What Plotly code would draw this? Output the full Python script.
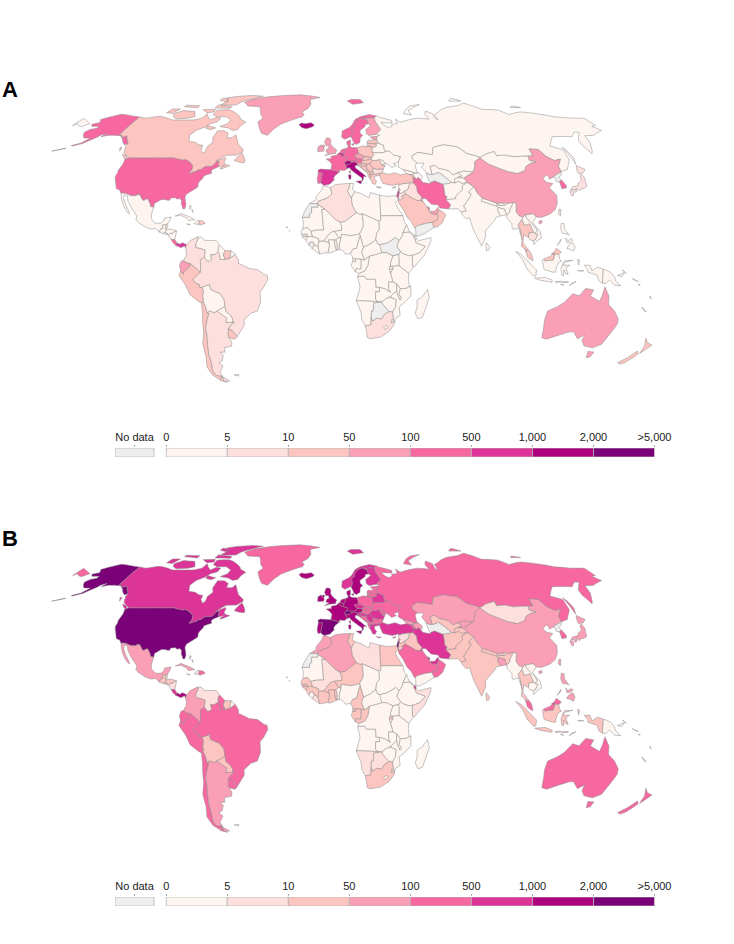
import plotly.graph_objects as go

W, H = 734, 944

# Country outlines as "lon,lat lon,lat ...", rings separated by ';'
OUTLINES = {
# North and Central America
"USA": "-124.7,48.4 -123,49 -116,49 -110,49 -102.5,49 -95.2,49 -94.6,48.7 -92,48.3 -89.6,48 -88.4,48.3 -84.9,46.9 -84.5,46.5 -83.5,46 -82.5,45.3 -82.1,43.6 -82.5,42.6 -83.1,42 -82.7,41.7 -81,42.3 -79,42.8 -79,43.3 -76.8,43.6 -76.3,44.2 -75,45 -71.5,45 -70.4,45.9 -70,46.7 -69.2,47.45 -68.3,47.3 -67.8,47.1 -67.8,45.7 -67,44.9 -68.5,44.3 -70.2,43.6 -70.8,42.8 -70.1,41.8 -71.4,41.4 -74,40.6 -74.2,39.5 -75.5,38 -76,37 -75.7,35.3 -77.8,34 -79.2,33.2 -81,32 -81.4,30.5 -80.5,28.4 -80,26.8 -80.4,25.2 -81.2,25.2 -81.8,26.2 -82.7,27.7 -82.8,29 -84,30 -85.5,29.7 -86.5,30.4 -89,30.3 -89.4,29.2 -90.5,29.2 -92,29.6 -94,29.6 -95,29 -97.2,27.7 -97.2,26 -99.1,26.4 -99.5,27.5 -101.4,29.8 -102.7,29.7 -103.2,29 -104.5,29.6 -106.5,31.8 -108.2,31.8 -108.2,31.3 -111,31.3 -114.8,32.5 -117.1,32.5 -118.5,34 -120.6,34.6 -122,36.8 -123.8,39.3 -124.3,40.4 -124.1,42 -124.5,43 -124,46.2;-141,69.6 -141,60.3 -139,60 -137.5,58.9 -135.5,59.8 -133.5,58.4 -130,55.9 -131.5,55.2 -134,56.5 -136,58 -139.5,59.8 -144,60 -148,60 -151.5,59.3 -150,61 -153,60 -154,58.9 -157,57.2 -158.5,56 -163.5,54.7 -164.5,54.9 -160,56.2 -157.5,58.6 -162,58.7 -165,60.5 -166,61.7 -164.5,63 -161,63.6 -161,64.6 -166,64.6 -168,65.7 -164,66.6 -166.5,68.3 -163,69.5 -157,71.2 -152,70.8 -146,70.1;-166,53.6 -170,52.7 -173,52.2 -168.5,53.2",
"CAN": "-141,69.6 -135,69 -128,70 -124,69.7 -115,68 -108,68 -100,68 -95,69 -94,71.5 -91,69.5 -88,68 -85,69.5 -81.5,69 -82,67 -86,66 -88,64.3 -92.5,62.5 -94.5,60 -92.5,57 -88,56.5 -85,55.3 -82.3,55.1 -82,53 -80,51.2 -78.8,52 -79,54.5 -76.8,56.5 -78.5,58.7 -78,62.3 -73.5,62.3 -70,61 -69.5,58.8 -66,58.8 -64.5,60.3 -62,57.5 -60,55.3 -56,53 -55.7,52 -59,50.3 -65,50.2 -67,49.3 -70,47.3 -65,49.2 -64.5,48.2 -65,47 -64,46 -61,45.3 -65.7,43.6 -66,44.3 -64,45.4 -67,44.9 -67.8,45.7 -67.8,47.1 -68.3,47.3 -69.2,47.45 -70,46.7 -70.4,45.9 -71.5,45 -75,45 -76.3,44.2 -76.8,43.6 -79,43.3 -79,42.8 -81,42.3 -82.7,41.7 -83.1,42 -82.5,42.6 -82.1,43.6 -82.5,45.3 -83.5,46 -84.5,46.5 -84.9,46.9 -88.4,48.3 -89.6,48 -92,48.3 -94.6,48.7 -95.2,49 -102.5,49 -110,49 -116,49 -123,49 -125,50 -128,51.5 -130,54.5 -130,55.9 -133.5,58.4 -135.5,59.8 -137.5,58.9 -139,60 -141,60.3;-80,73.7 -76,72.8 -71,71 -68,69.5 -67,68.5 -62,66.8 -64,65 -65,63 -68,62.5 -72,63.8 -78,64.5 -74,66 -73.5,68 -78,69.7 -85,69.8 -89,71 -89,73.5 -85,73.7;-117,69.9 -113,68.6 -105,69 -101,69.8 -105,72.8 -110,73 -114,73.3 -118.5,71.5;-125,72 -120,71.6 -118,74.2 -124,74.2;-90,76.5 -78,76.5 -76,78.5 -68,80.7 -62,82.5 -72,83.1 -85,82.3 -92,81.2 -88,79;-92,74.7 -80,74.6 -80,75.7 -92,76.6;-117,75.5 -106,74.8 -106,76.1 -117,76.4;-95,79.5 -87,78.3 -90,80.6 -95,81;-87,65 -80.5,63.8 -83,62.9 -87,63.6;-100,73.8 -95,72 -90,72.5 -91,74;-59.3,47.7 -56,46.9 -53,46.7 -52.8,47.6 -54,49.4 -56,51.4 -57.5,50;-128.3,50.8 -125.2,50 -123.4,48.4 -125.5,48.8;-133,54 -131.8,54 -131.3,52.2",
"MEX": "-117.1,32.5 -114.8,32.5 -111,31.3 -108.2,31.3 -108.2,31.8 -106.5,31.8 -104.5,29.6 -103.2,29 -102.7,29.7 -101.4,29.8 -99.5,27.5 -99.1,26.4 -97.2,26 -97.8,22.5 -97.2,20.5 -95,18.6 -92,18.6 -90.6,19.8 -90.4,21 -87,21.5 -87.6,19.5 -88.3,18.5 -89.1,17.9 -91,17.8 -91,17.2 -90.4,16.4 -91.7,16 -92.2,14.5 -94.5,16.2 -97,15.9 -100,16.9 -104,18.9 -105.6,20.4 -105.4,22 -109,25.6 -112,29 -113,31.2 -114.8,31.8 -114.7,30 -112.5,27 -110,24 -109.5,23 -110.2,23.2 -112.2,25 -114,27.2 -115.7,29.8",
"GRL": "-73,78.2 -68,76 -58,75.5 -54,71 -51,69 -53.5,67 -51,64 -48,61 -43.5,60 -41,63 -37,65.7 -30,68 -23,69.8 -22,71 -24,72.5 -20,74.5 -18.5,77 -20,80 -12,81.5 -30,83.6 -40,83.2 -55,82.2 -62,81.4 -66,80.8",
"ISL": "-24.3,65.6 -22,64 -18.8,63.4 -14.7,64.4 -13.6,65.3 -16,66.5 -20,66 -22.5,66.4",
"GTM": "-92.2,14.5 -91.7,16 -90.4,16.4 -91,17.2 -91,17.8 -89.1,17.9 -89.2,15.9 -88.3,15.7 -89.3,14.4 -90,13.8",
"BLZ": "-89.1,17.9 -88.3,18.5 -88.2,16.5 -89.2,15.9",
"SLV": "-90,13.8 -89.3,14.4 -87.8,13.9 -87.8,13.3",
"HND": "-89.3,14.4 -88.3,15.7 -86,15.9 -83.2,15 -84.5,14.7 -85,14 -86.7,13.8 -87.3,13 -87.8,13.3 -87.8,13.9",
"NIC": "-87.3,13 -86.7,13.8 -85,14 -84.5,14.7 -83.2,15 -83.7,11 -85.7,11.1",
"CRI": "-85.7,11.1 -83.7,11 -82.6,9.6 -83,8.3 -84.7,9.7",
"PAN": "-83,8.3 -82.6,9.6 -81,8.9 -79.5,9.6 -77.4,8.7 -77.9,7.2 -78.5,8.2 -80.4,7.3 -81.5,7.8",
"CUB": "-84.9,21.9 -82,23.1 -77,21.5 -74.2,20.2 -77.7,19.9 -78.5,21 -82,22.3",
"HTI": "-74.4,18.3 -72.8,19.9 -71.7,19.8 -71.8,18.1",
"DOM": "-71.7,19.8 -69.9,19.7 -68.4,18.6 -71.3,17.7 -71.8,18.1",
"JAM": "-78.3,18.4 -76.3,18 -77.5,17.8",
"BHS": "-78,26.7 -77,26.6 -77.5,25;-76.5,24.8 -75.5,23.5 -76,24.8",
# South America
"COL": "-77.4,8.7 -75.6,10.6 -72,12.2 -71.3,11.8 -72.5,9.2 -72.5,7.4 -70,7 -67.5,6.2 -67.8,2.8 -70,1.7 -69.8,-1 -70,-4.2 -72,-2.4 -75.2,-0.1 -77.4,0.4 -78.8,1.4 -77.3,3.8 -77.5,6 -77.9,7.2",
"VEN": "-72,12.2 -70,12.2 -68,10.7 -64,10.6 -62,10.7 -60,8.5 -60.7,7.5 -60.7,5.2 -62.8,4 -64.6,4.1 -64,1.8 -66,0.8 -67.8,2.8 -67.5,6.2 -70,7 -72.5,7.4 -72.5,9.2 -71.3,11.8",
"GUY": "-60,8.5 -57.2,6 -58,4 -56.9,1.9 -59.7,1.8 -60,4.5 -60.7,5.2 -60.7,7.5",
"SUR": "-57.2,6 -54,5.9 -54.5,2.3 -56.9,1.9 -58,4",
"GUF": "-54,5.9 -51.7,4.2 -54.5,2.3",
"ECU": "-80.9,-1 -80,1 -78.8,1.4 -77.4,0.4 -75.2,-0.1 -75.5,-1.5 -78.2,-3.5 -79.1,-5 -80.3,-3.4",
"PER": "-80.3,-3.4 -79.1,-5 -78.2,-3.5 -75.5,-1.5 -75.2,-0.1 -72,-2.4 -70,-4.2 -73,-6.5 -74,-7.5 -72.9,-9 -70.6,-9.8 -70.6,-11 -69.5,-11 -68.7,-12.5 -69.4,-15.5 -69,-16.5 -69.5,-17.5 -70.4,-18.3 -72,-17.4 -76,-14.5 -78,-10 -81.3,-5.5",
"BOL": "-69.4,-15.5 -68.7,-12.5 -69.5,-11 -65.4,-9.7 -65,-12 -60.5,-13.8 -58.3,-16.3 -58,-19.8 -62.6,-22 -64.3,-22.8 -66.3,-21.9 -68,-22.8 -68.5,-20 -69.5,-17.5 -69,-16.5",
"PRY": "-62.6,-22 -58,-19.8 -57.8,-22.1 -55.5,-24 -54.6,-25.6 -54.7,-27.2 -58.6,-27.3 -57.7,-25.3",
"CHL": "-70.4,-18.3 -69.5,-17.5 -68.5,-20 -68,-22.8 -67,-23 -68.4,-26 -70,-30 -70,-33 -71,-38 -71.8,-42 -72,-46 -73,-50 -72,-52 -68.4,-52.4 -71,-54 -74,-52 -75.5,-48 -73.8,-43 -73.5,-37.2 -71.5,-32 -71,-27 -70.4,-23;-68.6,-52.7 -68.6,-54.9 -67,-55.3 -71,-54.5 -70,-53.5",
"ARG": "-66.3,-21.9 -64.3,-22.8 -62.6,-22 -57.7,-25.3 -58.6,-27.3 -54.7,-27.2 -53.8,-27.1 -55.7,-28.3 -57.6,-30.2 -58.2,-33 -58.4,-34 -57,-36.3 -57.6,-38.2 -62,-39 -62.3,-41 -65,-41 -63.7,-42.6 -65.3,-45 -67.5,-46 -65.8,-47.5 -69,-50.5 -68.4,-52.4 -72,-52 -73,-50 -72,-46 -71.8,-42 -71,-38 -70,-33 -70,-30 -68.4,-26 -67,-23 -68,-22.8;-68.6,-52.7 -65.2,-54.7 -68.6,-54.9",
"URY": "-58.2,-33 -57.6,-30.2 -55.7,-30.9 -53.4,-33.7 -54.9,-35 -57.9,-34.4",
"BRA": "-51.7,4.2 -50,1.7 -50,0 -48,-0.7 -44.5,-2.3 -40,-2.8 -37,-4.8 -35,-5.5 -34.8,-7.5 -37,-11 -39,-13 -39,-18 -41,-22 -44.5,-23 -48.5,-26 -48.7,-28.5 -53.4,-33.7 -55.7,-30.9 -57.6,-30.2 -55.7,-28.3 -53.8,-27.1 -54.7,-27.2 -54.6,-25.6 -55.5,-24 -57.8,-22.1 -58,-19.8 -58.3,-16.3 -60.5,-13.8 -65,-12 -65.4,-9.7 -69.5,-11 -70.6,-11 -70.6,-9.8 -72.9,-9 -74,-7.5 -73,-6.5 -70,-4.2 -69.8,-1 -70,1.7 -67.8,2.8 -66,0.8 -64,1.8 -64.6,4.1 -62.8,4 -60.7,5.2 -60,4.5 -59.7,1.8 -56.9,1.9 -54.5,2.3",
"FLK": "-61,-51.8 -58,-51.5 -58.5,-52.3",
# Europe
"PRT": "-9,41.9 -8.2,42.1 -6.5,41.9 -7,39.7 -7.4,37.2 -9,37 -9.5,38.8",
"ESP": "-9.2,43.1 -8,43.7 -1.8,43.4 3.2,42.4 0.5,40.6 -0.3,39.3 0.2,38.7 -1.6,37.3 -2.2,36.7 -5.5,36 -7.4,37.2 -7,39.7 -6.5,41.9 -8.2,42.1 -9,41.9",
"FRA": "-1.8,43.4 -1.2,46 -2.5,47.3 -4.7,48.4 -1.5,48.7 -1.8,49.7 1.5,50.2 2.5,51.1 4.2,50 5.8,49.5 8.2,49 7.6,47.6 6,46.3 7,45.9 7.5,43.8 6,43 3.2,43.3 3.2,42.4;8.6,42.5 9.5,43 9.4,41.5",
"BEL": "2.5,51.1 3.4,51.4 5,51.4 6.1,50.7 5.8,49.5 4.2,50",
"NLD": "3.4,51.4 4.7,53 6.9,53.4 7,52.3 6,51 6.1,50.7 5,51.4",
"DEU": "7,52.3 6.9,53.4 8.8,54 8.7,54.9 10,54.7 11,54 14.1,53.9 14.7,52.8 14.9,51 12.2,50.3 13.8,48.7 13,47.5 10,47.3 7.6,47.6 8.2,49 5.8,49.5 6.1,50.7 6,51",
"CHE": "6,46.3 7.6,47.6 9.6,47.5 10.4,46.8 9,45.9 7,45.9",
"AUT": "9.6,47.5 13,47.5 13.8,48.7 16.9,48.6 17.1,47.7 16,46.7 13.7,46.5 12.2,47 10.4,46.8",
"ITA": "7,45.9 9,45.9 10.4,46.8 12.2,47 13.7,46.5 13.7,45.6 12.3,45.3 12.4,44.2 13.6,43.5 16,41.9 18.5,40.1 16.9,40.4 16.6,38.9 15.7,38 15.9,39.5 12.3,41.7 10.5,42.9 8.8,44.4 7.5,43.8;12.4,38 15.6,38.2 15.1,36.7;8.2,40.9 9.7,41 9.6,39.2 8.5,39",
"GBR": "-5,58.6 -3,58.6 -2,57.6 -2.2,56 -1.5,55 0,53.7 1.7,52.7 1,51.4 1.3,51.1 -3,50.7 -5.7,50 -3,51.4 -5,51.8 -4.3,53.2 -3,53.5 -3.5,54.9 -5,54.8 -6,56.6;-5.6,54.6 -6.5,55.2 -7.4,55 -8,54.5 -6.5,54.1",
"IRL": "-6.5,54.1 -8,54.5 -7.4,55 -8.5,55.1 -10,54.2 -10,52 -6.4,52.2 -6,53",
"DNK": "8.7,54.9 10,54.7 10.5,56.5 10.6,57.7 8.2,57 8.1,55.6;12,54.8 12.6,55.8 11,55.7",
"NOR": "5,59 7,58 10.6,59.3 11.3,59 12.2,61 12,63.5 14,64.5 14.5,66 16.5,68 20,69 20.5,69.1 23.5,68.8 25.5,69.2 28.9,69.1 31,70.2 26,71 23,70.5 19,69.8 15,68.2 12.5,65.5 10.5,64 5.5,62.2;11,79 15,77 24,78 22,80 14,80",
"SWE": "11.3,59 12.7,56 14.2,55.4 16.5,56.5 16.9,58.6 18.8,60 17.3,61 17.4,62.5 21.3,64.5 21.8,65.7 24,65.8 23.5,67.9 20.5,69.1 20,69 16.5,68 14.5,66 14,64.5 12,63.5 12.2,61",
"FIN": "24,65.8 25.4,65.1 21.4,63 21.4,60.8 23,59.9 27.8,60.5 31.5,62.9 29.2,66.9 29,69 28.9,69.1 25.5,69.2 23.5,68.8 20.5,69.1 23.5,67.9",
"EST": "23.5,59.2 28,59.5 27.4,57.6 25,58",
"LVA": "21,57 22.6,57.7 24.4,57.3 25,58 27.4,57.6 28.2,56.1 26.5,55.7 21,56.1",
"LTU": "21,56.1 26.5,55.7 26.6,54.9 25.5,54.2 23.5,54 22.8,54.4 21,55.3",
"POL": "14.1,53.9 18.5,54.8 19.8,54.4 22.8,54.4 23.5,54 23.6,52.6 23.6,51.5 24,50.5 22.6,49.1 19.5,49.5 18.8,49.5 14.9,51 14.7,52.8",
"CZE": "12.2,50.3 14.9,51 18.8,49.5 17,48.8 16.9,48.6 13.8,48.7",
"SVK": "17,48.8 18.8,49.5 19.5,49.5 22.6,49.1 22.2,48.4 18.8,47.8 17.1,47.7",
"HUN": "16,46.7 17.1,47.7 18.8,47.8 22.2,48.4 22.9,47.9 21,46.2 18.8,45.9 16.5,46.5",
"SVN": "13.7,46.5 16,46.7 16.5,46.5 15.5,45.5 13.7,45.5",
"HRV": "13.7,45.5 15.5,45.5 16.5,46.5 18.8,45.9 19,45 15.8,45.1 16,44.2 18.5,42.5 14.8,44.9",
"BIH": "15.8,45.1 19,45 19.2,43.5 18.5,42.5 16,44.2",
"SRB": "18.8,45.9 21,46.2 22.6,44.2 22.4,42.3 21,42.2 20,42.7 19.2,43.5 19,45",
"MNE": "19.2,43.5 20,42.7 19.3,41.9 18.5,42.5",
"ALB": "19.3,41.9 20,42.7 21,42.2 20.5,41 21,40 20,39.7 19.4,40.5",
"MKD": "20.5,41 21,42.2 22.4,42.3 23,41.3",
"GRC": "20,39.7 21,40 20.5,41 23,41.3 26.3,41.7 26,40.8 23,40.3 23,39 24,38 22.9,36.5 21.5,37 21,38.3;23.5,35.5 26.3,35.2 24.9,34.9",
"BGR": "22.6,44.2 25,43.7 28.6,43.7 27.8,42 26.3,41.7 23,41.3 22.4,42.3",
"ROU": "21,46.2 22.9,47.9 24.9,47.7 26.6,48.2 28.2,46 28.2,45.5 29.7,45.2 28.6,43.7 25,43.7 22.6,44.2",
"MDA": "26.6,48.2 29,47.9 30,46.4 28.2,45.5 28.2,46",
"UKR": "24,50.5 23.6,51.5 30,51.5 31.5,52.1 34,52.3 36,50.4 40,49.6 38.2,47.1 35,46.2 36.5,45.3 33.5,44.4 32.5,45.4 30.7,46.5 29.7,45.2 28.2,45.5 30,46.4 29,47.9 26.6,48.2 24.9,47.7 22.9,47.9 22.2,48.4 22.6,49.1",
"BLR": "23.6,52.6 23.5,54 25.5,54.2 26.6,54.9 26.5,55.7 28.2,56.1 31,55.1 31,53 31.5,52.1 30,51.5 23.6,51.5",
"RUS": "27.4,57.6 28,59.5 30,60 27.8,60.5 31.5,62.9 29.2,66.9 29,69 28.9,69.1 31,70.2 33,69.5 41,67.7 40.5,66.4 35,66.5 33,66.7 34.8,65 37,64 40,64.7 40,65.8 44,66 44,68.5 46.5,66.8 54,68.2 60,69 68,68.5 67,71 69,73 73,71.5 72.5,69 74,68 74,71 78,72.3 81,73.5 87,75 98,76.2 105,77.7 113,74 125,73.5 129,71 140,72.5 150,71.5 160,69.7 170,69 180,68.9 180,65 177,64.7 179.4,62.4 170,60 164,59.8 163,57.8 162,56 158,52 156.7,51 155.7,55 156.5,57.5 163,61.5 160,61.7 155,59.3 142,59.3 135,54.7 141,53 140,48 135,43.5 131,42.5 130.6,42.4 131,45 135,48.4 130.9,47.7 127.5,49.8 126,53 120.5,53.3 120,50 116.7,49.8 108,49.5 103,50.3 98,50 98,52 92,50.8 87.8,49.2 85,50 80.7,51 76.8,54.3 71,55 69,55.3 61.5,54 59.5,50.5 51,51.6 47,50 46.8,48.5 49,46.5 47.5,45.6 47.7,42 48.5,41.8 46.6,41.8 43.5,42.7 40,43.4 37.5,44.7 38.2,47.1 40,49.6 36,50.4 34,52.3 31.5,52.1 31,53 31,55.1 28.2,56.1;-180,68.9 -175,67.5 -170,66 -173,64.4 -176,65 -178.5,66 -180,65;20,54.4 22.8,54.4 21,55.3;142,54 143,52 143.5,49 142,46 142,50;51.5,71.5 57,70.7 56,73 68,76.8 60,76 55,74;95,79 105,79 100,81;137,75 145,75 140,76",
"GEO": "40,43.4 43.5,42.7 46.6,41.8 45,41.2 43.5,41.1 41.5,41.5",
"ARM": "43.5,41.1 45,41.2 46.5,39 44.8,39.7",
"AZE": "45,41.2 46.6,41.8 48.5,41.8 50.3,40.3 49,38.4 48,39.7 46.5,39",
"TUR": "26.3,41.7 28,42 31,41.2 35,42 38,41 41.5,41.5 43.5,41.1 44.8,39.7 44.5,37.3 42.5,37.2 38,36.8 36.7,36.2 36,36.8 32.5,36.1 30.5,36.4 29,36.7 27.4,37 26.3,39.3 26,40.8",
"CYP": "32.4,35 34.5,35.6 33.8,34.9",
# Middle East and Asia
"SYR": "36,36.8 36.7,36.2 38,36.8 42.5,37.2 41,34.4 38.8,33.4 36.8,32.3 35.9,32.7 35.9,33.3 36.6,34.2 35.9,34.6",
"LBN": "35.9,34.6 36.6,34.2 35.9,33.3 35.1,33.1",
"ISR": "35.1,33.1 35.9,33.3 35.5,31.5 35,29.5 34.3,31.3",
"JOR": "35.9,32.7 36.8,32.3 38.8,33.4 39.2,32.1 37,31 38,30.5 36,29.2 35,29.5 35.5,31.5",
"IRQ": "42.5,37.2 44.5,37.3 46,35.7 46,33 47.7,31 48.5,29.9 47.7,30.1 47,29.1 44.7,29.2 39.2,32.1 38.8,33.4 41,34.4",
"KWT": "47.7,30.1 48.4,28.5 47,29.1",
"SAU": "35,29.5 36,29.2 38,30.5 37,31 39.2,32.1 44.7,29.2 47,29.1 48.4,28.5 50,26.5 51,24.6 52,23 55.2,22.7 55.7,22 55,20 52,19 49,18.6 44,17.4 43.2,16.7 42.7,16.4 41,19.5 39,21.5 37.2,25 35,28",
"QAT": "51,24.6 51.6,25 51.2,26.1 50.8,25.5",
"BHR": "50.3,25.8 50.7,26.3 50.7,25.8",
"ARE": "51.6,24.2 54,24.1 56,26 56.4,24.9 55.2,22.7 52,23",
"OMN": "56.4,24.9 58.7,23.6 59.8,22.5 57.7,19 55,17 53,16.7 52,19 55,20 55.7,22 55.2,22.7",
"YEM": "43.2,12.7 43.2,16.7 44,17.4 49,18.6 52,19 53,16.7 48,14 45,12.8",
"IRN": "44.8,39.7 46.5,39 48,39.7 49,38.4 50,37.4 54,36.9 54,37.4 56.5,38.2 61,36.6 61,34.4 60.8,31.5 61.8,30.8 61,29.5 63.2,27.2 61.6,25.2 57,25.7 56.3,27 52.5,27.5 50,30 48.5,29.9 47.7,31 46,33 46,35.7 44.5,37.3",
"TKM": "52.9,41.9 54.8,41.2 56,41.3 57,41.3 60,42.2 62,40.9 66,37.5 64.5,37 61,36.6 56.5,38.2 54,37.4 53.2,39",
"UZB": "56,45 59,45.5 61,44 64,43.5 66,43 68,41 71,42 73,40.5 71,40 68,39 67.8,37.2 66,37.5 62,40.9 60,42.2 57,41.3 56,41.3",
"KAZ": "47,50 51,51.6 59.5,50.5 61.5,54 69,55.3 71,55 76.8,54.3 80.7,51 85,50 87.8,49.2 87.3,49 83,47 82.5,45.3 80,42.2 75,42.8 71,42 68,41 66,43 64,43.5 61,44 59,45.5 56,45 56,41.3 54.8,41.2 52.9,41.9 52.5,42.8 51,44.5 53,46.5 49,46.5 46.8,48.5",
"KGZ": "71,42 75,42.8 80,42.2 74,39.7 73.6,39.4 70,39.7 71,40 73,40.5",
"TJK": "67.8,37.2 68,39 70,39.7 73.6,39.4 74.9,37.4 71.5,37 70,38",
"AFG": "61,36.6 64.5,37 66,37.5 67.8,37.2 70,38 71.5,37 74.9,37.4 71.5,36 71,34 69.3,33 66.5,31 66.4,29.9 61,29.5 61.8,30.8 60.8,31.5 61,34.4",
"PAK": "61,29.5 66.4,29.9 66.5,31 69.3,33 71,34 71.5,36 74.9,37.4 77.8,35.5 74,33 75.3,32.2 74.5,31 73,29.5 70,26.5 71,24.3 68.2,23.7 66.7,25.3 61.6,25.2 63.2,27.2",
"IND": "68.2,23.7 71,24.3 70,26.5 73,29.5 74.5,31 75.3,32.2 74,33 77.8,35.5 78.9,32.5 81,30.2 80,28.8 88,26.4 88.1,27.9 89,26.8 92,26.8 94,27.8 97.3,28.2 95,25.5 94,23.5 92.5,22.5 91.8,24 92,25 89.8,25.5 88.5,26 88,24.5 89,22 86.8,21.5 85,19.5 81,16 80,15 80,12.5 78,8.8 77.5,8 76,11 74,15 72.8,19 72.6,21 70.3,20.8 69,22.2",
"NPL": "80,28.8 81,30.2 88.1,27.9 88,26.4",
"BTN": "89,26.8 89,28 92,27.9 92,26.8",
"BGD": "88,24.5 88.5,26 89.8,25.5 92,25 91.8,24 92.5,22.5 91,22.3 89,22",
"LKA": "80,9.7 81.8,7.5 81,6.1 80,6 79.8,8",
"CHN": "73.6,39.4 74,39.7 80,42.2 82.5,45.3 83,47 87.3,49 91,46 95.5,44.2 100,42.6 105,41.6 110,43 112,45 116,46.5 119.5,47 116,47.8 116.7,49.8 120,50 120.5,53.3 126,53 127.5,49.8 130.9,47.7 135,48.4 131,45 130.6,42.4 128,41.5 124.4,40 121.7,39 122,40.5 121,40.8 118,39.2 119.5,37.5 122.5,37 119.5,35 122,31.5 121,28 119,25 116,23 113,22 110.5,21.3 108,21.5 106.7,23 102.5,22.5 101.5,21.2 99,22 97.7,24 98.7,27.8 97.3,28.2 94,27.8 92,27.9 89,28 88.1,27.9 81,30.2 78.9,32.5 77.8,35.5 74.9,37.4;108.7,19.3 110.5,20 110.8,19 109.3,18.2",
"TWN": "121,25.1 122,25 121,22 120.2,23",
"MNG": "87.8,49.2 92,50.8 98,52 98,50 103,50.3 108,49.5 116.7,49.8 116,47.8 119.5,47 116,46.5 112,45 110,43 105,41.6 100,42.6 95.5,44.2 91,46 87.3,49",
"PRK": "124.4,40 128,41.5 130.6,42.4 129.7,41 127.5,39.7 128.3,38.6 126.7,37.8 125,37.9 125.3,39.5",
"KOR": "126.7,37.8 128.3,38.6 129.5,36 129,35 126.3,34.5 126.6,37",
"JPN": "130.9,34 132.5,35.4 136,36 137,37.3 139.5,38.5 140,40.5 141.4,41.4 142,39.5 141,37 140.8,35.7 138.8,34.8 136.8,34.5 135.5,33.6 135,34.6 132.5,34.2;140,41.5 140.2,43 141.7,45.4 145.3,43.5 143,42;130,33.4 131,33.9 132,33 131,31.3 130.2,31.3;132.5,33.8 134.5,34.2 134,33.4 133,32.8",
"MMR": "92.2,21 92.5,22.5 94,23.5 95,25.5 97.3,28.2 98.7,27.8 97.7,24 99,22 101,21.5 100.2,20.3 97.8,18 98.5,16 99,11 98.6,13 97.6,16.5 95.5,15.8 94.3,16 94.5,18.5",
"THA": "97.8,18 100.2,20.3 100.5,19.5 101,17.6 104,18.4 105.5,14.5 102.8,14 102.5,12 100.8,12.7 100,13.4 99.3,9.5 101.5,6.8 102,6.2 101,5.7 100.2,6.6 98.3,8 99,11 98.5,16",
"LAO": "100.2,20.3 101,21.5 102.2,22.4 103,20.8 104.7,19 107,16.3 107.6,15 106,13.9 105.5,14.5 104,18.4 101,17.6 100.5,19.5",
"KHM": "102.5,12 102.8,14 105.5,14.5 106,13.9 107.6,13.5 106,11 104.8,10.5 103,11",
"VNM": "102.2,22.4 106.7,23 108,21.5 105.7,19 107,17 109,15 109.2,11.7 106.7,10.4 105,8.7 104.8,10.5 106,11 107.6,13.5 106,13.9 107.6,15 107,16.3 104.7,19 103,20.8",
"MYS": "100.2,6.6 101,5.7 102,6.2 103.4,4.5 104.2,1.4 103.4,1.5 101.3,2.9;109.6,2 111.3,2.7 113,3.2 115,5 116.7,7 119.2,5.2 117.7,4.2 115.8,4.3 114.7,1.5 112,1.4 110.5,1",
"BRN": "114,4.6 115.3,5 115.2,4",
"IDN": "95.3,5.6 98,4.2 100.5,2 103.7,-1 106,-3 105.8,-5.8 104.5,-5.8 101,-2.5 98.8,1.7;109,1.5 109.6,2 110.5,1 112,1.4 114.7,1.5 115.8,4.3 117.7,4.2 118,2.3 119,1 117.5,0.5 116.5,-1.5 116,-4 114.5,-4 110,-2.8;105.2,-6.8 108.5,-6.6 111,-6.5 114.5,-7.7 114.5,-8.7 108.5,-7.8;119.5,-5.5 120.4,-5.6 120.3,-3 121.5,-4.8 122.7,-5 121.3,-2 123.4,-0.8 120,-0.8 120.5,0.5 125,1.5 120.8,1.3 119.7,0 118.8,-2.8;131,-0.8 134,-0.8 135,-3.4 138,-1.7 141,-2.6 141,-9.1 139,-8 138,-5.5 133,-4 132.8,-2.8;127.5,2 128.5,1.5 128,-0.8;123.6,-10.3 127,-8.4 125,-9;127.7,-3.2 130.8,-3.4 128,-3.5;119,-8.5 123,-8.3 123,-8.8 119.9,-8.8;116,-8.4 119,-8.2 117,-9;119,-9.5 120.8,-10 119.5,-9.8",
"PHL": "120.7,18.5 122.2,18.5 122,16 124,13 123.5,13.5 120.6,14 120,16;122,7 123.5,8.7 125.5,9.7 126.5,7.5 125.5,5.7 124,6.5;122,11.8 123,10.5 125,11.5 125.7,10.8 124,9.8 122.5,9.6;117.2,8.4 119.5,11.3 119,10",
"PNG": "141,-2.6 144.5,-3.8 147,-6 147.8,-8 150.8,-10.3 147.5,-10 144.5,-7.6 143,-9.2 141,-9.1;148.5,-5.6 152,-4.2 151,-6;151,-3 153,-4.7 152.5,-4",
"AUS": "114.2,-22 113.5,-26 115,-34.3 118,-35 124,-33 129,-31.6 131.2,-31.5 135,-34.8 138,-33 138,-35.6 140.5,-38 146,-39 150,-37.3 151.5,-33 153.5,-28 153,-25.5 150,-22 146,-19 145.3,-15 142.5,-10.8 141.7,-15 140.8,-17.5 135.5,-15 136.8,-12.2 132.5,-11.5 129.5,-14.9 126,-14 122.2,-18 119,-20;144.7,-40.7 148.3,-40.9 147.9,-43.2 146,-43.6",
"NZL": "172.7,-40.5 174.3,-41.8 172.7,-43.8 170.7,-45.9 168.5,-46.6 166.5,-45.9 170,-43.5;172.7,-34.5 175,-36.5 178.5,-37.7 176.9,-39.5 175,-41.6 174.7,-39.9 174.7,-38",
"NCL": "164,-20.1 167,-22.4 166,-22",
"FJI": "177.3,-17.5 178.6,-17.6 178,-18.3",
"SLB": "156.5,-7 159.8,-8.4 158.5,-8;159.8,-9.5 161,-10 160,-9.9",
"VUT": "167,-15 168,-16.5 167.3,-16",
# Africa
"MAR": "-13.2,27.7 -8.7,27.7 -8.7,28.7 -3.6,30.3 -1.2,32.1 -2,35.1 -5,35.9 -6,35.8 -6.8,34 -9.7,31 -9.8,29.5",
"ESH": "-8.7,27.7 -8.7,26 -12,26 -12,23.4 -13,23 -13,21.3 -17,21.3 -16,23.7 -14.5,26 -13.2,27.7",
"DZA": "-8.7,27.7 -8.7,28.7 -3.6,30.3 -1.2,32.1 -2,35.1 1,36.5 9,37 8.3,34.6 7.5,33.5 9.5,30.3 9.9,27 12,23.5 6,19.5 3.3,19 1.2,20 -4.8,25 -8.7,27.3",
"TUN": "9,37 11,37 10.2,34.3 11.5,33.2 10.2,31.5 9.5,30.3 7.5,33.5 8.3,34.6",
"LBY": "11.5,33.2 15,32.3 19,30.3 20,32.8 25,31.6 25,22 25,20 24,19.5 15,23 14,22.6 12,23.5 9.9,27 9.5,30.3 10.2,31.5",
"EGY": "25,31.6 29,31 32,31.2 34.3,31.3 34.9,29.5 33.2,28 34.2,26 36.9,22 25,22",
"MRT": "-17,21.3 -13,21.3 -13,23 -12,23.4 -12,26 -8.7,26 -8.7,27.3 -4.8,25 -6.5,25 -5.5,15.5 -9.5,15.4 -12.2,14.8 -14,16.6 -16.5,16.1 -16.3,19",
"MLI": "-4.8,25 1.2,20 3.3,19 4.2,16.8 4,15.3 0.2,14.9 -2,14.2 -4,12 -5.5,10.4 -8,10.2 -8.3,11.5 -11.4,12.4 -12.2,14.8 -9.5,15.4 -5.5,15.5 -6.5,25",
"NER": "3.3,19 6,19.5 12,23.5 14,22.6 15,23 15.5,20 15.5,16.9 13.5,13.7 9,12.8 4,13.5 3.6,11.7 2.4,12 0.2,14.9 4,15.3 4.2,16.8",
"TCD": "15,23 24,19.5 24,15.7 22.5,14 22,11 19,9 15.5,7.5 13.7,13 13.5,13.7 15.5,16.9 15.5,20",
"SDN": "24,15.7 24,19.5 25,20 25,22 36.9,22 37.4,19 38.5,18 36.5,14.3 36,12.7 34.2,10.5 32.5,12 28,9.5 24,8.7 23,9 22,11 22.5,14",
"SSD": "24,8.7 28,9.5 32.5,12 34.2,10.5 33,8 35,5.4 33.9,4.2 30.8,3.5 27.5,5 25,5 23.5,8.7",
"ERI": "36.5,14.3 38.5,18 39.7,15 43.1,12.7 42,12.6 40,14.5",
"ETH": "36,12.7 36.5,14.3 40,14.5 42,12.6 42.7,11 43.3,9.5 48,8 45,5 42,4 39.6,3.5 36,4.5 35,5.4 33,8 34.2,10.5",
"DJI": "42,12.6 43.1,12.7 43.3,11.5 42.7,11",
"SOM": "43.3,11.5 44.5,10.5 51,12 51,10.4 47.5,4 42,-1.6 41,-1 41,3.9 42,4 45,5 48,8 43.3,9.5 42.7,11",
"KEN": "33.9,4.2 35,5.4 36,4.5 39.6,3.5 41,3.9 41,-1 41.5,-1.7 39.2,-4.6 37.7,-3.6 34,-1 34,1.2",
"UGA": "30.8,3.5 33.9,4.2 34,1.2 34,-1 29.6,-1.4 29.6,0.5",
"TZA": "29.6,-1.4 34,-1 37.7,-3.6 39.2,-4.6 39,-7 39.5,-10.5 40.4,-10.4 38,-11.5 34.9,-11.6 33,-9.5 31,-8.6 29.6,-4.5 30.8,-2.4",
"RWA": "29,-1.5 29.6,-1.4 30.8,-1.3 30.8,-2.4 29,-2.8",
"BDI": "29,-2.8 30.8,-2.4 29.6,-4.5",
"COD": "30.8,3.5 29.6,0.5 29.6,-1.4 29,-1.5 29,-2.8 29.6,-4.5 31,-8.6 28.7,-8.5 28.8,-11.8 29.8,-13.4 27,-11.8 23.9,-11 22,-11 21.8,-7.3 17,-7.3 16,-5.9 12.3,-6 13,-4.6 16,-3.5 17.7,-1 18.6,3.5 22,4.2 25,5 27.5,5",
"COG": "13,-4.6 11.2,-3.9 11.5,-2.3 14,-2.5 14.2,1.3 13.3,2.2 16,1.7 18.6,3.5 17.7,-1 16,-3.5",
"GAB": "9,-1 9.8,1 11.3,1 11.3,2.2 13.3,2.2 14.2,1.3 14,-2.5 11.5,-2.3 11.2,-3.9",
"GNQ": "9.8,1 11.3,1 11.3,2.2 9.8,2.2",
"CMR": "8.5,4.6 9.8,3 9.8,2.2 11.3,2.2 13.3,2.2 16,1.7 14.5,5 15.5,7.5 13.7,13 13,11 11.8,7 10,6.8",
"NGA": "2.7,6.4 4.5,6.2 6,4.3 8.5,4.6 10,6.8 11.8,7 13,11 13.7,13 13.5,13.7 9,12.8 4,13.5 3.6,11.7 2.8,9",
"BEN": "1.6,6.2 2.7,6.4 2.8,9 3.6,11.7 2.4,12 0.9,11 1.6,9",
"TGO": "1.2,6.1 1.6,6.2 1.6,9 0.9,11 0,11 0.5,8",
"GHA": "-3.2,5.1 -2,4.8 1.2,6.1 0.5,8 0,11 -2.9,11 -2.7,9.7 -2.5,8",
"CIV": "-7.5,4.4 -3.2,5.1 -2.5,8 -2.7,9.7 -5.5,10.4 -8,10.2 -8.5,7.6",
"BFA": "-5.5,10.4 -2.7,9.7 -2.9,11 0,11 0.9,11 2.4,12 0.2,14.9 -2,14.2 -4,12",
"LBR": "-11.5,6.9 -7.5,4.4 -8.5,7.6 -9.5,8.5 -10.3,8.5",
"SLE": "-13.2,8.5 -11.5,6.9 -10.3,8.5 -11,10 -12.5,10",
"GIN": "-14.9,10.9 -13.2,8.5 -12.5,10 -11,10 -10.3,8.5 -9.5,8.5 -8.5,7.6 -8,10.2 -8.3,11.5 -11.4,12.4 -13.7,12.6",
"GNB": "-16.7,12.3 -13.7,12.6 -14.9,10.9",
"SEN": "-17.5,14.7 -16.5,16.1 -14,16.6 -12.2,14.8 -11.4,12.4 -13.7,12.6 -16.7,12.3",
"GMB": "-16.8,13.5 -14,13.6 -14,13.2 -16.8,13.2",
"CAF": "15.5,7.5 19,9 22,11 23,9 24,8.7 25,5 22,4.2 18.6,3.5 16,1.7 14.5,5",
"AGO": "12.3,-6 16,-5.9 17,-7.3 21.8,-7.3 22,-11 23.9,-11 24,-13 22,-13 22,-16.5 23.4,-17.6 18.5,-17.4 13.5,-17.2 11.8,-17.3 13.7,-11 13.2,-9",
"ZMB": "22,-13 24,-13 23.9,-11 27,-11.8 29.8,-13.4 28.8,-11.8 28.7,-8.5 31,-8.6 33,-9.5 33,-12.5 30.2,-15 28,-16 25.3,-17.8 23.4,-17.6 22,-16.5",
"MWI": "33,-9.5 34.9,-11.6 34.4,-14.3 35.8,-16 35,-17 33.3,-14 33,-12.5",
"ZWE": "25.3,-17.8 28,-16 30.2,-15.7 33,-16.7 32.8,-20 31.3,-22.4 29.4,-22.2 26,-19",
"MOZ": "30.2,-15 33,-12.5 33.3,-14 35,-17 35.8,-16 34.4,-14.3 34.9,-11.6 38,-11.5 40.4,-10.4 40.7,-15 36.5,-18.8 34.7,-20 35.5,-24 32.9,-25.5 32.9,-26.8 32,-26 31.3,-22.4 32.8,-20 33,-16.7 30.2,-15.7",
"NAM": "11.8,-17.3 13.5,-17.2 18.5,-17.4 23.4,-17.6 25.3,-17.8 21,-18.3 21,-22 20,-22 20,-28.4 17,-28.8 15,-26 14.5,-22.5",
"BWA": "21,-18.3 25.3,-17.8 26,-19 29.4,-22.2 27,-23.6 25.5,-25.7 23,-25.3 20.7,-26.8 20,-24.8 20,-22 21,-22",
"ZAF": "17,-28.8 20,-28.4 20,-24.8 20.7,-26.8 23,-25.3 25.5,-25.7 27,-23.6 29.4,-22.2 31.3,-22.4 32,-26 31,-27.3 32.9,-26.8 32.4,-28.6 30,-31.5 25.7,-34 20,-34.8 18.3,-34.2 18,-32",
"LSO": "27,-29.6 28.6,-28.6 29.4,-29.5 28,-30.6",
"SWZ": "31,-25.8 32,-26 31.9,-27.2 31,-27.3",
"MDG": "49.3,-12 50.4,-15.7 47.5,-24.9 45.2,-25.5 43.5,-23 44.3,-20 44,-17 46.5,-15.5",
"CPV": "-25.3,17 -24.5,16.7 -25,16.5;-23.7,15.3 -23.2,15 -23.6,14.9",
}

countries = list(OUTLINES)

# Class index for each country, in the order of OUTLINES (None = no data)
values_a = [
    4, 2, 0, 3, 6, 0, 0, 0, 0, 0, 4, 5, 0, 0, 2, 0, 0,
    1, 0, 0, 2, 0, 3, 2, 0, 0, 2, 1, 2, 1, 0,
    4, 5, 4, 5, 4, 4, 6, 4, 6, 3, 3, 4, 4, 4, 3, 3, 2, 2, 2, 3, 2, 2, 3, 2, 2, 2, 2, 2, 2, 2, 1, 2, 0, 0, 0, 0,
    0, 2, 0, 2, 2,
    0, 3, 5, 1, 1, 3, 2, 4, 5, 3, 2, None, 4, None, 0, 0, 0, 0, 0, 0, 0, 0, 0, 0, 0, 3, 1, 0, None, 4, 1, 0, 2, 0, 1, 0, 2, 3, 0, 0, 0, 3, 2, 3, 0, 0, 0,
    0, None, 1, 0, 0, 0, 0, 0, 0, 0, 0, None, 0, 0, 0, 0, 0, 0, 0, 0, 0, 0, 0, 0, 0, 0, 0, 0, 0, 0, 0, 0, 0, None, 0, 0, 0, 0, 0, 0, 0, 0, 0, 0, 0, None, 1, 0, 0, 0, 0,
]
values_b = [
    7, 5, 3, 4, 6, 2, 1, 2, 2, 1, 5, 6, 3, 1, 4, 1, 1,
    3, 1, 4, 2, 0, 4, 4, 2, 2, 4, 3, 4, 4, 0,
    6, 7, 6, 6, 6, 6, 7, 6, 6, 6, 6, 6, 5, 6, 5, 4, 4, 4, 4, 5, 4, 4, 5, 5, 4, 5, 4, 4, 4, 5, 4, 5, 4, 4, 5, 4,
    3, 4, 3, 5, 5,
    1, 4, 7, 2, 2, 5, 4, 6, 6, 5, 4, 0, 5, None, 2, 3, 3, 2, 2, 2, 2, 2, 2, 3, 2, 3, 3, 1, None, 4, 3, 0, 2, 0, 0, 0, 4, 5, 2, 3, 0, 4, 4, 4, 3, 0, 0,
    3, None, 3, 2, 1, 2, 0, 1, 2, 0, 0, 0, 0, 0, 5, 1, 0, 0, 0, 2, 0, 0, 2, 2, 2, 2, 0, 0, 2, 2, 2, 2, 1, 0, 2, 2, 2, 1, 0, 0, 0, 0, 0, 0, 1, 1, 2, 0, 1, 0, 0,
]

class_colors = ["#fff5f0", "#fde0dd", "#fcc5c0", "#fa9fb5", "#f768a1", "#dd3497", "#ae017e", "#7a0177"]
no_data_color = "#eeeeee"
border_color = "#8a8a8a"
legend_labels = ["0", "5", "10", "50", "100", "500", "1,000", "2,000", ">5,000"]
panel_labels = ["A", "B"]

# Panel placement in page pixels
map_left, map_width = 0, 668
map_tops = [89, 539]
map_height = 349
legend_left, legend_right = 115, 654.5
legend_tops = [448, 897]
legend_height = 9
label_y = [90, 538]
no_data_span = (-0.84, 0.64)


def parse_rings(text):
    lons, lats = [], []
    for ring_text in text.split(";"):
        pts = [tuple(map(float, p.split(","))) for p in ring_text.split()]
        area = sum(pts[i][0] * pts[(i + 1) % len(pts)][1] - pts[(i + 1) % len(pts)][0] * pts[i][1]
                   for i in range(len(pts)))
        if area > 0:
            pts.reverse()
        pts.append(pts[0])
        if lons:
            lons.append(None)
            lats.append(None)
        lons += [p[0] for p in pts]
        lats += [p[1] for p in pts]
    return lons, lats


assert len(countries) == len(values_a) == len(values_b), (len(countries), len(values_a), len(values_b))

fig = go.Figure()
for panel, values in enumerate([values_a, values_b]):
    geo_id = "geo" if panel == 0 else "geo2"
    for code, v in zip(countries, values):
        lons, lats = parse_rings(OUTLINES[code])
        fig.add_trace(go.Scattergeo(
            lon=lons, lat=lats, mode="lines", fill="toself", geo=geo_id, name=code,
            fillcolor=no_data_color if v is None else class_colors[v],
            line=dict(color=border_color, width=0.5), hoverinfo="name", showlegend=False))

    ax = "" if panel == 0 else "2"
    base = [no_data_span[0]] + list(range(8))
    widths = [no_data_span[1]] + [1] * 8
    colors = [no_data_color] + class_colors
    fig.add_trace(go.Bar(orientation="h", y=[0] * 9, x=widths, base=base, width=1,
                         marker=dict(color=colors, line=dict(color="#b5b5b5", width=0.8)),
                         xaxis="x" + ax, yaxis="y" + ax, showlegend=False, hoverinfo="skip"))

    top = legend_tops[panel]
    xaxis = dict(domain=[legend_left / W, legend_right / W], range=[-0.84, 8], side="top",
                 tickmode="array", tickvals=[-0.52] + list(range(9)), ticktext=["No data"] + legend_labels,
                 ticks="outside", ticklen=2, tickcolor="#aaaaaa", tickwidth=1, showgrid=False, zeroline=False,
                 showline=False, tickfont=dict(family="Liberation Sans, Arial", size=11, color="#222222"),
                 anchor="y" + ax, fixedrange=True)
    yaxis = dict(domain=[1 - (top + legend_height) / H, 1 - top / H], range=[-0.5, 0.5], visible=False,
                 anchor="x" + ax, fixedrange=True)
    geo = dict(domain=dict(x=[map_left / W, (map_left + map_width) / W],
                           y=[1 - (map_tops[panel] + map_height) / H, 1 - map_tops[panel] / H]),
               projection=dict(type="robinson", scale=1.03),
               showland=False, showcoastlines=False, showcountries=False, showframe=False,
               showocean=False, showlakes=False, showrivers=False, showsubunits=False,
               bgcolor="rgba(0,0,0,0)")
    fig.update_layout(**{"xaxis" + ax: xaxis, "yaxis" + ax: yaxis, geo_id: geo})

    fig.add_annotation(text="<b>%s</b>" % panel_labels[panel], xref="paper", yref="paper", x=0, xanchor="left",
                       y=1 - label_y[panel] / H, yanchor="middle", showarrow=False,
                       font=dict(family="Liberation Sans, Arial", size=22, color="#000000"))

fig.update_layout(width=W, height=H, margin=dict(l=0, r=0, t=0, b=0, autoexpand=False), paper_bgcolor="white",
                  plot_bgcolor="white", barmode="overlay", showlegend=False)
fig.write_html("out.html", config={"displayModeBar": False, "responsive": False},
               post_script="document.body.style.margin='0';document.documentElement.style.overflow='hidden';"
                           "var gd=document.getElementById('{plot_id}');gd.style.width='734px';gd.style.height='944px';"
                           "Plotly.relayout(gd,{width:734,height:944});")
